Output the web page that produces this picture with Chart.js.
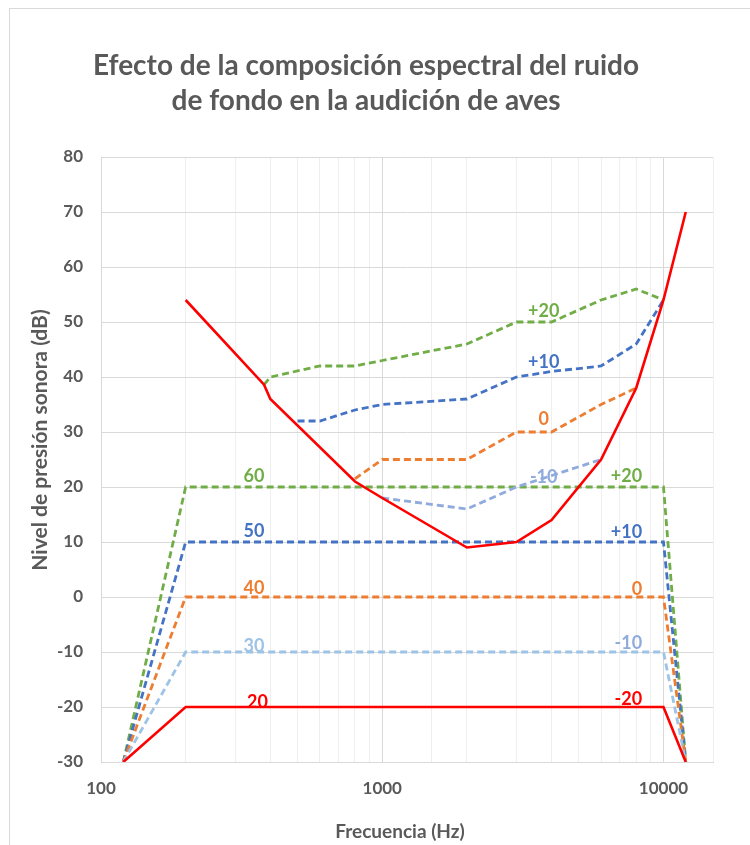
<!DOCTYPE html>
<html><head><meta charset="utf-8">
<script src="https://cdn.jsdelivr.net/npm/chart.js@4.4.1/dist/chart.umd.min.js"></script>
<style>html,body{margin:0;padding:0;background:#fff;}</style>
</head><body>
<canvas id="c" width="750" height="845"></canvas>
<script>
// ---------- data ----------
const titleLines = ["Efecto de la composición espectral del ruido", "de fondo en la audición de aves"];
const xAxisTitle = "Frecuencia (Hz)";
const yAxisTitle = "Nivel de presión sonora (dB)";
const xMin = 100, xMax = 15000;
const yMin = -30, yMax = 80, yStep = 10;

// audiogram (solid red curve)
const audiogramFreq = [200, 380, 400, 800, 1000, 2000, 3000, 4000, 6000, 8000, 10000, 12000];
const audiogramDb   = [54, 38.6, 36, 21, 18, 9, 10, 14, 25, 38, 54, 70];

// masked thresholds (upper dashed curves)
const maskFreqP20 = [380, 400, 600, 800, 1000, 2000, 3000, 4000, 6000, 8000, 10000];
const maskDbP20   = [38.6, 40, 42, 42, 43, 46, 50, 50, 54, 56, 54];
const maskFreqP10 = [500, 600, 800, 1000, 2000, 3000, 4000, 6000, 8000, 10000];
const maskDbP10   = [32, 32, 34, 35, 36, 40, 41, 42, 46, 54];
const maskFreq0   = [800, 1000, 2000, 3000, 4000, 6000, 8000];
const maskDb0     = [21.5, 25, 25, 30, 30, 35, 38];
const maskFreqM10 = [1000, 2000, 3000, 6000];
const maskDbM10   = [18, 16, 20, 25];

// noise spectra (lower plateaus)
const noiseFreq = [120, 200, 10000, 12000];
const noise60 = [-30, 20, 20, -30];
const noise50 = [-30, 10, 10, -30];
const noise40 = [-30, 0, 0, -30];
const noise30 = [-30, -10, -10, -30];
const noise20 = [-30, -20, -20, -30];

// data labels
const labelTexts = ["60", "50", "40", "30", "20", "+20", "+10", "0", "-10", "-20", "+20", "+10", "0", "-10"];
const labelFreq  = [350, 350, 350, 350, 360, 8400, 8400, 8400, 8400, 8400, 3750, 3750, 3750, 3750];
const labelDb    = [21, 11, 0.5, -10, -20.2, 21, 10.8, 0.4, -9.4, -19.6, 50.9, 41.6, 31.3, 20.7];
const labelAlign = ["center","center","center","center","center","right","right","right","right","right","center","center","center","center"];

// ---------- styles ----------
const GREEN = "#70AD47", BLUE = "#4472C4", ORANGE = "#ED7D31", LBLUE = "#9DC3E6", LBLUE2 = "#8FAADC", RED = "#FF0000";
const TEXT = "#595959";
const FONT = "Lato, 'Open Sans', 'DejaVu Sans', sans-serif";
const labelColors = [GREEN, BLUE, ORANGE, LBLUE, RED, GREEN, BLUE, ORANGE, LBLUE2, RED, GREEN, BLUE, ORANGE, LBLUE2];

function pts(xs, ys) { return xs.map((x, i) => ({x: x, y: ys[i]})); }
function solid(data, color) {
  return {data: data, borderColor: color, backgroundColor: color, borderWidth: 2.6, showLine: true, pointRadius: 0, tension: 0, fill: false};
}
function dashed(data, color) {
  return {data: data, borderColor: color, backgroundColor: color, borderWidth: 2.8, borderDash: [7, 4], showLine: true, pointRadius: 0, tension: 0, fill: false};
}

const datasets = [
  solid(pts(audiogramFreq, audiogramDb), RED),
  solid(pts(noiseFreq, noise20), RED),
  dashed(pts(maskFreqP20, maskDbP20), GREEN),
  dashed(pts(maskFreqP10, maskDbP10), BLUE),
  dashed(pts(maskFreq0, maskDb0), ORANGE),
  dashed(pts(maskFreqM10, maskDbM10), LBLUE2),
  dashed(pts(noiseFreq, noise30), LBLUE),
  dashed(pts(noiseFreq, noise40), ORANGE),
  dashed(pts(noiseFreq, noise50), BLUE),
  dashed(pts(noiseFreq, noise60), GREEN)
];

const decorPlugin = {
  id: "decor",
  beforeDraw(chart) {
    const c = chart.ctx;
    c.save();
    c.fillStyle = "#fff";
    c.fillRect(0, 0, chart.width, chart.height);
    c.strokeStyle = "#d9d9d9";
    c.lineWidth = 1;
    c.strokeRect(9.5, 8.5, 800, 900);
    c.restore();
  },
  afterDatasetsDraw(chart) {
    const c = chart.ctx, xs = chart.scales.x, ys = chart.scales.y;
    c.save();
    c.font = "bold 18px " + FONT;
    c.textBaseline = "alphabetic";
    labelTexts.forEach((t, i) => {
      c.fillStyle = labelColors[i];
      c.textAlign = labelAlign[i];
      c.fillText(t, xs.getPixelForValue(labelFreq[i]), ys.getPixelForValue(labelDb[i]));
    });
    c.restore();
  },
  afterDraw(chart) {
    const c = chart.ctx;
    c.save();
    c.fillStyle = TEXT;
    c.textAlign = "center";
    c.textBaseline = "middle";
    c.font = "bold 28px " + FONT;
    c.fillText(titleLines[0], 366, 66);
    c.fillText(titleLines[1], 366, 101);
    c.font = "bold 19px " + FONT;
    c.fillText(xAxisTitle, 400, 832);
    c.translate(40, 440);
    c.rotate(-Math.PI / 2);
    c.font = "bold 21px " + FONT;
    c.fillText(yAxisTitle, 0, 0);
    c.restore();
  }
};

function isDecade(v) { const l = Math.log10(v); return Math.abs(l - Math.round(l)) < 1e-9; }

new Chart(document.getElementById("c"), {
  type: "scatter",
  data: {datasets: datasets},
  plugins: [decorPlugin],
  options: {
    responsive: false,
    animation: false,
    events: [],
    layout: {padding: {left: 0, top: 157, right: 37, bottom: 0}},
    plugins: {legend: {display: false}, tooltip: {enabled: false}, title: {display: false}},
    scales: {
      x: {
        type: "logarithmic", min: xMin, max: xMax,
        afterFit(s) { s.height = 83; },
        border: {color: "#d9d9d9", width: 1},
        grid: {
          drawTicks: false,
          color(ctx) { return ctx.tick && isDecade(ctx.tick.value) ? "#d9d9d9" : "#efefef"; }
        },
        ticks: {
          autoSkip: false, maxRotation: 0, padding: 16, color: TEXT,
          font: {family: FONT, size: 17, weight: "bold"},
          callback(v) { return isDecade(v) ? String(Math.round(v)) : ""; }
        }
      },
      y: {
        type: "linear", min: yMin, max: yMax,
        afterFit(s) { s.width = 101; },
        border: {color: "#d9d9d9", width: 1},
        grid: {drawTicks: false, color: "#d9d9d9"},
        ticks: {stepSize: yStep, padding: 18, color: TEXT, font: {family: FONT, size: 17, weight: "bold"}}
      }
    }
  }
});
</script>
</body></html>
